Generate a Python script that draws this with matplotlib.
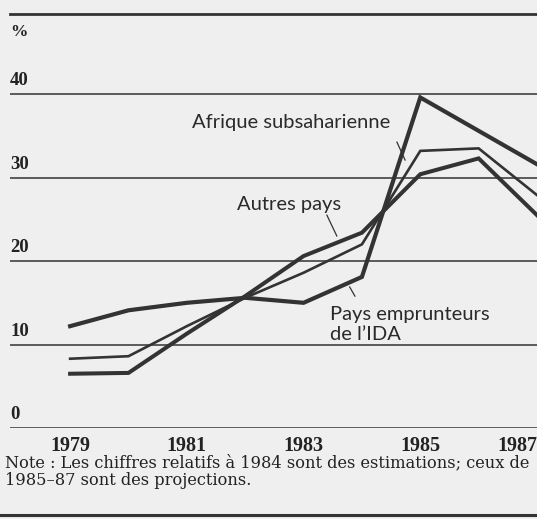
import matplotlib
matplotlib.use("Agg")
import matplotlib.pyplot as plt
from matplotlib.lines import Line2D
import matplotlib.transforms as mtransforms

# Data (%)
years = [1979, 1980, 1981, 1982, 1983, 1984, 1985, 1986, 1987]
afrique = [8.3, 8.6, 12.2, 15.6, 18.6, 22.0, 33.2, 33.5, 27.9]
autres = [6.5, 6.6, 11.3, 15.8, 20.6, 23.4, 30.4, 32.3, 25.5]
ida = [12.2, 14.1, 15.0, 15.6, 15.0, 18.1, 39.6, 35.6, 31.6]

grid_values = [0, 10, 20, 30, 40]
tick_years = [1979, 1981, 1983, 1985, 1987]

bg = "#efefef"
ink = "#333333"

fig = plt.figure(figsize=(5.37, 5.19), dpi=100, facecolor=bg)
ax = fig.add_axes([10 / 537, (519 - 428) / 519, 527 / 537, 414 / 519])
ax.set_facecolor(bg)
ax.set_xlim(1977.97, 1987)
ax.set_ylim(0, 49.6)

for s in ["left", "right", "bottom"]:
    ax.spines[s].set_visible(False)
ax.spines["top"].set_linewidth(2.0)
ax.spines["top"].set_color(ink)

# horizontal rules
for v in grid_values:
    ax.axhline(v, color=ink, lw=1.8 if v == 0 else 1.1, zorder=1)

ax.plot(years, afrique, color=ink, lw=1.9, solid_joinstyle="miter", zorder=3)
ax.plot(years, autres, color=ink, lw=2.9, solid_joinstyle="miter", zorder=3)
ax.plot(years, ida, color=ink, lw=3.0, solid_joinstyle="miter", zorder=3)

# y labels sit above each rule
trans = mtransforms.blended_transform_factory(ax.transAxes, ax.transData)
for v in grid_values:
    ax.text(0, v + 1.6, str(v), transform=trans, ha="left", va="center",
            fontsize=13.5, family="Liberation Serif", fontweight="bold", color="#222222")
ax.text(0, 47.4, "%", transform=trans, ha="left", va="center",
        fontsize=12.5, family="Liberation Serif", fontweight="bold", color="#222222")

ax.set_yticks([])
ax.set_xticks(tick_years)
ax.set_xticklabels([str(y) for y in tick_years], family="Liberation Serif",
                   fontsize=14.5, fontweight="bold", color="#222222")
ax.get_xticklabels()[-1].set_ha("right")
ax.tick_params(axis="x", length=0, pad=6)

# series labels with leader lines
lab = dict(family="Lato", fontsize=14.5, color="#2a2a2a")
ax.text(1981.09, 36.6, "Afrique subsaharienne", ha="left", va="center", **lab)
ax.plot([1984.60, 1984.74], [34.25, 32.1], color=ink, lw=0.9)
ax.text(1981.86, 26.8, "Autres pays", ha="left", va="center", **lab)
ax.plot([1983.40, 1983.57], [25.5, 23.0], color=ink, lw=0.9)
ax.text(1983.45, 14.6, "Pays emprunteurs\nde l\u2019IDA", ha="left", va="top",
        linespacing=1.2, **lab)
ax.plot([1983.79, 1983.88], [16.9, 15.8], color=ink, lw=0.9)

note = dict(family="DejaVu Serif", fontsize=11.7, color="#222222")
fig.text(0.009, 0.108, "Note : Les chiffres relatifs \u00e0 1984 sont des estimations; ceux de",
         ha="left", va="center", **note)
fig.text(0.009, 0.075, "1985\u201387 sont des projections.", ha="left", va="center", **note)

fig.add_artist(Line2D([0.0, 1.0], [0.0077, 0.0077], color=ink, lw=2.2,
                      transform=fig.transFigure))

fig.savefig("out.png", dpi=100, facecolor=bg)
